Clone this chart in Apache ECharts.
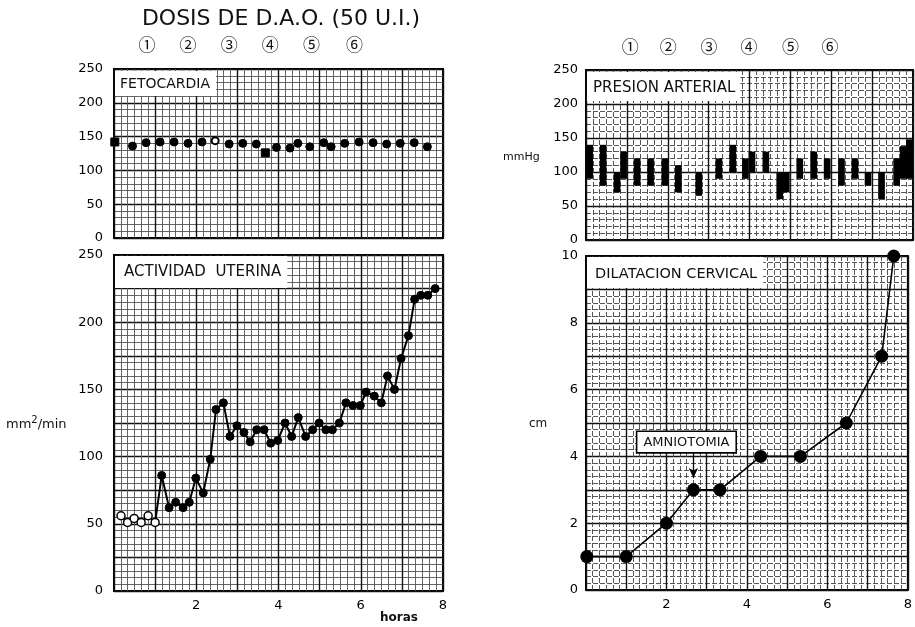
<!DOCTYPE html>
<html><head><meta charset="utf-8">
<script src="https://cdn.jsdelivr.net/npm/echarts@6/dist/echarts.min.js"></script>
<style>html,body{margin:0;padding:0;background:#fff}#c{width:915px;height:627px}</style>
</head><body><div id="c"></div>
<script>
// ---- data ----
const xTickLabels = ['2', '4', '6', '8'];
const pressureTicks = [0, 50, 100, 150, 200, 250];
const uterineTicks = [0, 50, 100, 150, 200, 250];
const dilationTicks = [0, 2, 4, 6, 8, 10];

const fetoHours = [0.02,0.45,0.78,1.12,1.46,1.8,2.14,2.46,2.8,3.13,3.46,3.68,3.95,4.28,4.47,4.76,5.1,5.28,5.61,5.96,6.3,6.63,6.96,7.3,7.62];
const fetoValues = [142,136,141,142,142,140,142,144,139,140,139,126,134,133,140,135,141,135,140,142,141,139,140,141,135];

const uterHours = [0.17,0.33,0.49,0.66,0.83,1.0,1.16,1.34,1.5,1.68,1.83,1.99,2.17,2.34,
  2.48,2.66,2.82,2.99,3.16,3.31,3.47,3.65,3.81,3.98,4.16,4.32,4.48,4.66,4.83,4.99,5.15,5.31,5.48,5.64,
  5.81,5.99,6.13,6.33,6.5,6.65,6.82,6.98,7.16,7.31,7.46,7.63,7.81];
const uterValues = [56,51,54,51,56,51,86,62,66,62,66,84,73,98,
  135,140,115,123,118,111,120,120,110,112,125,115,129,115,120,125,120,120,125,140,
  138,138,148,145,140,160,150,173,190,217,220,220,225];
const uterBaselineCount = 6; // first readings (open circles)

const presHours = [0.09,0.42,0.76,0.92,1.25,1.58,1.93,2.26,2.76,3.25,3.59,3.9,4.06,4.4,4.74,4.9,5.23,5.57,5.9,6.25,6.58,6.9,7.23,7.6,7.76,7.91];
const presLow  = [90,80,70,90,80,80,80,70,65,90,100,90,100,100,60,70,90,90,90,80,90,80,60,80,90,90];
const presHigh = [140,140,100,130,120,120,120,110,100,120,140,120,130,130,100,100,120,130,120,120,120,100,100,120,138,148];
const presBarHours = 0.164;

const dilHours = [0.02,1.0,2.0,2.67,3.33,4.34,5.33,6.47,7.35,7.65];
const dilValues = [1,1,2,3,3,4,4,5,7,10];
const amniotomyHour = 2.67;

const doseLabels = ['①','②','③','④','⑤','⑥'];
const doseHoursLeft = [0.8,1.8,2.8,3.8,4.8,5.85];
const doseHoursRight = [1.08,2.01,3.01,3.99,5.0,5.97];

// ---- chart ----
const FONT = 'DejaVu Sans';
const chart = echarts.init(document.getElementById('c'), null, {renderer: 'canvas'});

function xAxis(gi, showLabels, dashed) {
  return {
    type: 'value', gridIndex: gi, min: 0, max: 8, interval: 1,
    axisLine: {show: false}, axisTick: {show: false},
    axisLabel: {show: showLabels, color: '#000', fontSize: 13, fontFamily: FONT, margin: 8,
      formatter: v => xTickLabels.includes(String(v)) ? String(v) : ''},
    splitLine: {show: true, lineStyle: {color: '#111', width: 1.4}},
    minorTick: {show: false, splitNumber: 6},
    minorSplitLine: {show: true, lineStyle: {color: dashed ? '#444' : '#555', width: 0.9, type: dashed ? [5, 2] : 'solid'}}
  };
}
function yAxis(gi, max, interval, ticks, margin, dashed) {
  return {
    type: 'value', gridIndex: gi, min: 0, max: max, interval: interval,
    axisLine: {show: false}, axisTick: {show: false},
    axisLabel: {color: '#000', fontSize: 13, fontFamily: FONT, margin: margin,
      formatter: v => ticks.includes(v) ? String(v) : ''},
    splitLine: {show: true, lineStyle: {color: '#111', width: 1.4}},
    minorTick: {show: false, splitNumber: 5},
    minorSplitLine: {show: true, lineStyle: {color: dashed ? '#444' : '#555', width: 0.9, type: dashed ? [5, 2] : 'solid'}}
  };
}
const gridBase = {show: true, borderColor: '#000', borderWidth: 2, containLabel: false};

const panelTitle = (text, left, top, size, pad) => ({
  text: text, left: left, top: top, padding: pad, backgroundColor: '#fff',
  textStyle: {fontFamily: FONT, fontSize: size, fontWeight: 'normal', color: '#111'}
});

const option = {
  animation: false,
  backgroundColor: '#fff',
  title: [
    panelTitle('FETOCARDIA', 115, 71, 14, [6, 6, 5, 5]),
    panelTitle('ACTIVIDAD  UTERINA', 115, 256, 15, [9, 6, 8, 9]),
    panelTitle('PRESION ARTERIAL', 587, 72, 15, [9, 5, 5, 6]),
    panelTitle('DILATACION CERVICAL', 587, 257, 14.5, [10, 6, 6, 8])
  ],
  grid: [
    Object.assign({left: 114, top: 69, width: 329, height: 169}, gridBase),
    Object.assign({left: 114, top: 255, width: 329, height: 336}, gridBase),
    Object.assign({left: 586, top: 70, width: 327, height: 170}, gridBase),
    Object.assign({left: 586, top: 256, width: 326, height: 334}, gridBase)
  ],
  xAxis: [xAxis(0, false, false), xAxis(1, true, false), xAxis(2, false, true), xAxis(3, true, true)],
  yAxis: [
    yAxis(0, 250, 50, pressureTicks, 11, false),
    yAxis(1, 250, 25, uterineTicks, 11, false),
    yAxis(2, 250, 50, pressureTicks, 8, true),
    yAxis(3, 10, 1, dilationTicks, 8, true)
  ],
  series: [
    {
      type: 'scatter', xAxisIndex: 0, yAxisIndex: 0, clip: false,
      data: fetoHours.map((h, i) => {
        const item = {value: [h, fetoValues[i]]};
        if (i === 0 || i === 11) { item.symbol = 'rect'; item.symbolSize = 8; }
        if (i === 7) { item.symbol = 'emptyCircle'; item.symbolSize = 7; item.itemStyle = {borderWidth: 2, opacity: 1}; }
        return item;
      }),
      symbol: 'circle', symbolSize: 8, itemStyle: {color: '#000', borderColor: '#000', opacity: 1}
    },
    {
      type: 'line', xAxisIndex: 1, yAxisIndex: 1, clip: false,
      data: uterHours.map((h, i) => {
        const item = {value: [h, uterValues[i]]};
        if (i < uterBaselineCount) item.itemStyle = {color: '#fff', borderColor: '#000', borderWidth: 1.5};
        return item;
      }),
      symbol: 'circle', symbolSize: 8, showAllSymbol: true,
      lineStyle: {color: '#000', width: 2},
      itemStyle: {color: '#000', borderColor: '#000', borderWidth: 1}
    },
    {
      type: 'custom', xAxisIndex: 2, yAxisIndex: 2,
      data: presHours.map((h, i) => [h, presLow[i], presHigh[i]]),
      encode: {x: 0, y: [1, 2]},
      renderItem: (params, api) => {
        const x = api.value(0), lo = api.value(1), hi = api.value(2);
        const p1 = api.coord([x, hi]);
        const p2 = api.coord([x, lo]);
        const w = api.size([presBarHours, 0])[0];
        return {type: 'rect', shape: {x: p1[0] - w / 2, y: p1[1], width: w, height: p2[1] - p1[1]},
          style: {fill: '#000'}};
      }
    },
    {
      type: 'line', xAxisIndex: 3, yAxisIndex: 3, clip: false,
      data: dilHours.map((h, i) => [h, dilValues[i]]),
      symbol: 'circle', symbolSize: 13,
      lineStyle: {color: '#000', width: 1.6},
      itemStyle: {color: '#000'},
      markLine: {
        silent: true, symbol: ['none', 'arrow'], symbolSize: [7, 10],
        lineStyle: {color: '#000', width: 1.3, type: 'solid'},
        label: {show: true, position: 'start', formatter: 'AMNIOTOMIA', color: '#111',
          fontFamily: FONT, fontSize: 13, backgroundColor: '#fff', borderColor: '#000', borderWidth: 1.6,
          padding: [4, 6, 3, 6], distance: 0, offset: [-7, 0]},
        data: [[{coord: [amniotomyHour, 4.13]}, {coord: [amniotomyHour, 3.35]}]]
      }
    }
  ]
};
chart.setOption(option);

// ---- text annotations ----
const CIRC_FONT = '17px "Noto Sans CJK SC", "DejaVu Sans"';
const graphics = [
  {type: 'text', x: 281, y: 19, style: {text: 'DOSIS DE D.A.O. (50 U.I.)', font: '22px "DejaVu Sans"', fill: '#111', align: 'center', verticalAlign: 'middle'}},
  {type: 'text', x: 6, y: 423, style: {
    text: '{a|mm}{s|2}{a|/min}', fill: '#111', verticalAlign: 'middle',
    rich: {a: {fontFamily: FONT, fontSize: 13, fill: '#111', verticalAlign: 'bottom'},
           s: {fontFamily: FONT, fontSize: 10, fill: '#111', verticalAlign: 'top', padding: [0, 0, 6, 0]}}}},
  {type: 'text', x: 503, y: 157, style: {text: 'mmHg', font: '11px "DejaVu Sans"', fill: '#111', verticalAlign: 'middle'}},
  {type: 'text', x: 529, y: 424, style: {text: 'cm', font: '12px "DejaVu Sans"', fill: '#111', verticalAlign: 'middle'}},
  {type: 'text', x: 380, y: 618, style: {text: 'horas', font: 'bold 12px "DejaVu Sans"', fill: '#111', verticalAlign: 'middle'}}
];
doseLabels.forEach((t, i) => {
  const xl = chart.convertToPixel({xAxisIndex: 0}, doseHoursLeft[i]);
  const xr = chart.convertToPixel({xAxisIndex: 2}, doseHoursRight[i]);
  graphics.push({type: 'text', x: xl, y: 45, style: {text: t, font: CIRC_FONT, fill: '#111', align: 'center', verticalAlign: 'middle'}});
  graphics.push({type: 'text', x: xr, y: 47, style: {text: t, font: CIRC_FONT, fill: '#111', align: 'center', verticalAlign: 'middle'}});
});
chart.setOption({graphic: graphics});
</script></body></html>
